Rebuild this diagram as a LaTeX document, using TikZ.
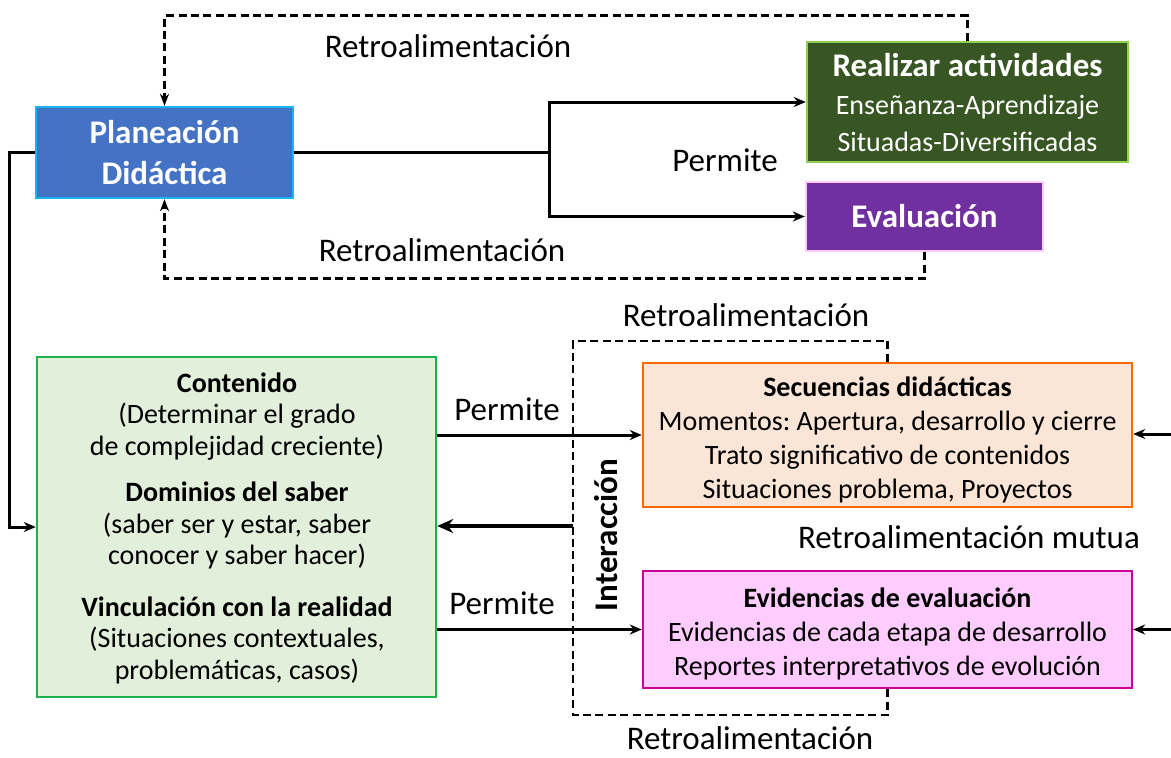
\documentclass[tikz,border=0pt]{standalone}
\usepackage{fontspec}
\setmainfont{Carlito}
\frenchspacing
\usetikzlibrary{arrows.meta,positioning}

\definecolor{planfill}{HTML}{4472C4}
\definecolor{plandraw}{HTML}{1AB4F0}
\definecolor{realfill}{HTML}{375623}
\definecolor{realdraw}{HTML}{8FD14F}
\definecolor{evalfill}{HTML}{7030A0}
\definecolor{evaldraw}{HTML}{FFCCFF}
\definecolor{contfill}{HTML}{E2EFDA}
\definecolor{contdraw}{HTML}{1DB14B}
\definecolor{secfill}{HTML}{FBE5D6}
\definecolor{secdraw}{HTML}{FF6A00}
\definecolor{evidfill}{HTML}{FFCCFF}
\definecolor{eviddraw}{HTML}{CC0099}

\begin{document}
\begin{tikzpicture}[x=0.5pt, y=-0.5pt,
    box/.style={draw, line width=1.2pt, align=center, inner sep=0pt},
    big/.style={font=\fontsize{16.5}{20.5}\selectfont\bfseries},
    small/.style={font=\fontsize{14}{17}\selectfont},
    txt/.style={small, align=center, inner sep=0pt},
    lbl/.style={font=\fontsize{16.5}{20}\selectfont, inner sep=0pt},
    con/.style={line width=1.5pt},
    arr/.style={con, -{Stealth[length=6pt, width=5pt]}},
    retro/.style={line width=1.4pt, dash pattern=on 4pt off 2.2pt},
    retroarr/.style={retro, -{Stealth[length=6pt, width=4.5pt]}}]
  \useasboundingbox (0,0) rectangle (1171,757);

  % upper part
  \node[box, big, text=white, fill=planfill, draw=plandraw,
        minimum width=128.5pt, minimum height=45.5pt] (plan) at (164.5,152.5)
        {Planeación\\Didáctica};
  \node[box, small, text=white, fill=realfill, draw=realdraw,
        minimum width=160.5pt, minimum height=60pt] (real) at (967.5,102)
        {{\fontsize{16.5}{18.5}\selectfont\bfseries Realizar actividades}\\[2pt]
         Enseñanza-Aprendizaje\\[1.5pt]Situadas-Diversificadas};
  \node[box, big, text=white, fill=evalfill, draw=evaldraw,
        minimum width=118.5pt, minimum height=34.5pt] (eval) at (924.5,216.5)
        {Evaluación};

  \coordinate (br) at (549,152.5);
  \draw[con] (plan.east) -- (br);
  \draw[arr] (br) |- (real.west);
  \draw[arr] (br) |- (eval.west);
  \node[lbl] (p1) at (725,160) {Permite};

  \draw[retroarr] (real.north) -- ++(0,-25) -| (plan.north);
  \draw[retroarr] (eval.south) -- ++(0,26) -| (plan.south);
  \node[lbl] (r1) at (448,46) {Retroalimentación};
  \node[lbl] (r2) at (442,250) {Retroalimentación};

  % lower part
  \node[box, fill=contfill, draw=contdraw,
        minimum width=199.5pt, minimum height=170pt] (cont) at (236.5,527) {};
  \node[txt, font=\fontsize{14}{15.75}\selectfont] (contt) at (237,528)
        {\textbf{Contenido}\\(Determinar el grado\\de complejidad creciente)\\[7.5pt]
         \textbf{Dominios del saber}\\(saber ser y estar, saber\\conocer y saber hacer)\\[10pt]
         \textbf{Vinculación con la realidad}\\(Situaciones contextuales,\\problemáticas, casos)};
  \node[box, fill=secfill, draw=secdraw,
        minimum width=244.5pt, minimum height=72pt] (sec) at (887.5,435) {};
  \node[txt] (sect) at (887.5,440)
        {\textbf{Secuencias didácticas}\\Momentos: Apertura, desarrollo y cierre\\
         Trato significativo de contenidos\\Situaciones problema, Proyectos};
  \node[box, fill=evidfill, draw=eviddraw,
        minimum width=244.5pt, minimum height=58.5pt] (evid) at (887.5,629.5) {};
  \node[txt] (evidt) at (887.5,634)
        {\textbf{Evidencias de evaluación}\\Evidencias de cada etapa de desarrollo\\
         Reportes interpretativos de evolución};

  \draw[arr] (plan.west) -- ++(-25,0) |- (cont.west);
  \draw[arr] (cont.east |- sec.west) -- (sec.west);
  \draw[arr] (cont.east |- evid.west) -- (evid.west);
  \node[lbl] (p2) at (507,409) {Permite};
  \node[lbl] (p3) at (502,603) {Permite};

  \coordinate (il) at (573,341);
  \coordinate (ib) at (573,715);
  \coordinate (ic) at (573,526);
  \draw[retro] (sec.north) |- (il) -- (ib) -| (evid.south);
  \draw[line width=2.2pt, -{Stealth[length=8pt, width=7pt]}] (ic) -- (cont.east |- ic);
  \node[lbl, font=\fontsize{16.5}{20}\selectfont\bfseries, rotate=90] (inter) at (606,535) {Interacción};
  \node[lbl] (r3) at (746,315) {Retroalimentación};
  \node[lbl] (r4) at (750,738) {Retroalimentación};

  \coordinate (rs) at (1171,434);
  \coordinate (re) at (1171,629.5);
  \draw[arr] (rs) -- (sec.east |- rs);
  \draw[arr] (re) -- (evid.east);
  \node[lbl] (rm) at (969,537) {Retroalimentación mutua};
\end{tikzpicture}
\end{document}
